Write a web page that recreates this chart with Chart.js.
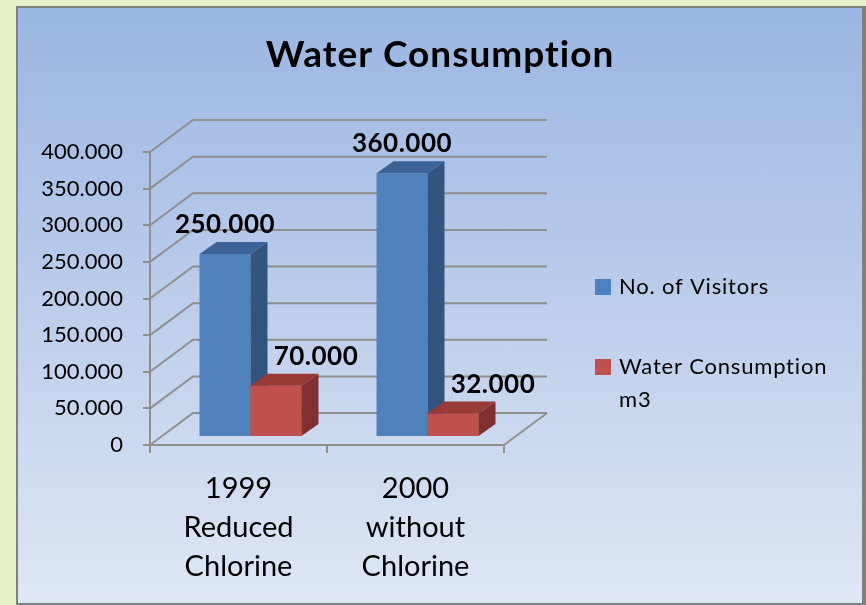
<!DOCTYPE html>
<html>
<head>
<meta charset="utf-8">
<script src="https://cdn.jsdelivr.net/npm/chart.js@4.4.1/dist/chart.umd.min.js"></script>
<style>
  body {
    margin: 0;
    width: 866px;
    height: 605px;
    overflow: hidden;
    position: relative;
    background: #e4f0c9;
  }
  #panel {
    position: absolute;
    left: 16px;
    top: 6px;
    width: 844px;
    height: 595px;
    border: 2px solid #808080;
    border-right-width: 4px;
    background: linear-gradient(#9bb6e3, #bdcdeb 50%, #dfe7f4);
  }
  canvas {
    position: absolute;
    left: 0;
    top: 0;
  }
</style>
</head>
<body>
<div id="panel"></div>
<canvas id="chart" width="866" height="605"></canvas>
<script>
const chartTitle = 'Water Consumption'
const categories = [
  ['1999', 'Reduced', 'Chlorine'],
  ['2000', 'without', 'Chlorine'],
]
const seriesNames = ['No. of Visitors', 'Water Consumption m3']
const visitors = [250000, 360000]
const waterM3 = [70000, 32000]
const yTicks = [0, 50000, 100000, 150000, 200000, 250000, 300000, 350000, 400000]

// excel style: 400.000
const fmt = (v) => String(v).replace(/\B(?=(\d{3})+(?!\d))/g, '.')

const GRID = '#8f8f8f'
const WALL = { dx: 43, dy: -32 } // front plane -> back wall
const SHIFT = { dx: 12, dy: -8 } // bars sit a bit inside the box
const BAR_DEPTH = { dx: 17, dy: -12 }
const faces = [
  { top: '#3b6397', side: '#33547f' },
  { top: '#983b38', side: '#80302e' },
]
const labelShift = [0, 40]

const pseudo3d = {
  id: 'pseudo3d',
  beforeDraw(chart) {
    const { ctx } = chart
    ctx.save()
    ctx.fillStyle = '#000'
    ctx.font = 'bold 37px Lato'
    ctx.letterSpacing = '1px'
    ctx.textAlign = 'center'
    ctx.textBaseline = 'alphabetic'
    ctx.fillText(chartTitle, 440, 67)

    // legend, wraps long names
    ctx.font = '22px Lato'
    ctx.letterSpacing = '0.8px'
    ctx.textAlign = 'left'
    ctx.textBaseline = 'middle'
    chart.data.datasets.forEach((ds, i) => {
      const top = 279 + i * 80
      ctx.fillStyle = ds.backgroundColor
      ctx.fillRect(595, top, 16, 16)
      ctx.fillStyle = '#000'
      const lines = []
      let line = ''
      ds.label.split(' ').forEach((w) => {
        const test = line ? line + ' ' + w : w
        if (ctx.measureText(test).width > 222 && line) {
          lines.push(line)
          line = w
        } else {
          line = test
        }
      })
      lines.push(line)
      lines.forEach((t, k) => ctx.fillText(t, 619, top + 8 + k * 33))
    })
    ctx.restore()
  },
  beforeDatasetsDraw(chart) {
    const { ctx, chartArea: a, scales } = chart
    ctx.save()
    ctx.strokeStyle = GRID
    ctx.lineWidth = 2
    ctx.beginPath()
    scales.y.ticks.forEach((t) => {
      const py = scales.y.getPixelForValue(t.value)
      ctx.moveTo(a.left, py)
      ctx.lineTo(a.left + WALL.dx, py + WALL.dy)
      ctx.lineTo(a.right + WALL.dx, py + WALL.dy)
    })
    ctx.moveTo(a.right, a.bottom)
    ctx.lineTo(a.right + WALL.dx, a.bottom + WALL.dy)
    ctx.stroke()
    ctx.restore()

    ctx.save()
    ctx.translate(SHIFT.dx, SHIFT.dy)
  },
  afterDatasetsDraw(chart) {
    const { ctx } = chart
    chart.data.datasets.forEach((ds, i) => {
      chart.getDatasetMeta(i).data.forEach((bar) => {
        const { x, y, base, width } = bar.getProps(['x', 'y', 'base', 'width'], true)
        const l = x - width / 2
        const r = x + width / 2
        if (i > 0) bar.draw(ctx) // front face must cover the previous bar's side
        ctx.fillStyle = faces[i].top
        ctx.beginPath()
        ctx.moveTo(l, y)
        ctx.lineTo(r, y)
        ctx.lineTo(r + BAR_DEPTH.dx, y + BAR_DEPTH.dy)
        ctx.lineTo(l + BAR_DEPTH.dx, y + BAR_DEPTH.dy)
        ctx.closePath()
        ctx.fill()
        ctx.fillStyle = faces[i].side
        ctx.beginPath()
        ctx.moveTo(r, y)
        ctx.lineTo(r + BAR_DEPTH.dx, y + BAR_DEPTH.dy)
        ctx.lineTo(r + BAR_DEPTH.dx, base + BAR_DEPTH.dy)
        ctx.lineTo(r, base)
        ctx.closePath()
        ctx.fill()
      })
    })

    ctx.fillStyle = '#000'
    ctx.font = 'bold 26px Lato'
    ctx.letterSpacing = '0.5px'
    ctx.textAlign = 'center'
    ctx.textBaseline = 'alphabetic'
    chart.data.datasets.forEach((ds, i) => {
      chart.getDatasetMeta(i).data.forEach((bar, j) => {
        ctx.fillText(fmt(ds.data[j]), bar.x + labelShift[i], bar.y - 21)
      })
    })
    ctx.restore()
  },
}

Chart.defaults.font.family = 'Lato'
Chart.defaults.color = '#000'

new Chart(document.getElementById('chart'), {
  type: 'bar',
  data: {
    labels: categories,
    datasets: [
      {
        label: seriesNames[0],
        data: visitors,
        backgroundColor: '#4f81bd',
      },
      {
        label: seriesNames[1],
        data: waterM3,
        backgroundColor: '#c0504d',
      },
    ],
  },
  options: {
    responsive: false,
    animation: false,
    categoryPercentage: 0.576,
    barPercentage: 1,
    layout: {
      padding: { left: 0, right: 362, top: 152, bottom: 0 },
    },
    scales: {
      x: {
        grid: {
          drawOnChartArea: false,
          tickLength: 8,
          color: GRID,
          lineWidth: 2,
          offset: true,
        },
        border: { color: GRID, width: 2 },
        ticks: {
          font: { size: 29, lineHeight: 1.34 },
          padding: 16,
          maxRotation: 0,
          autoSkip: false,
        },
        afterFit: (s) => {
          s.height = 160
        },
      },
      y: {
        min: 0,
        max: 400000,
        afterBuildTicks: (s) => {
          s.ticks = yTicks.map((v) => ({ value: v }))
        },
        grid: {
          drawOnChartArea: false,
          tickLength: 7,
          color: GRID,
          lineWidth: 2,
        },
        border: { color: GRID, width: 2 },
        ticks: {
          font: { size: 22 },
          padding: 20,
          callback: (v) => fmt(v),
        },
        afterFit: (s) => {
          s.width = 150
        },
      },
    },
    plugins: {
      legend: { display: false },
      title: { display: false },
      tooltip: { enabled: false },
    },
  },
  plugins: [pseudo3d],
})
</script>
</body>
</html>
